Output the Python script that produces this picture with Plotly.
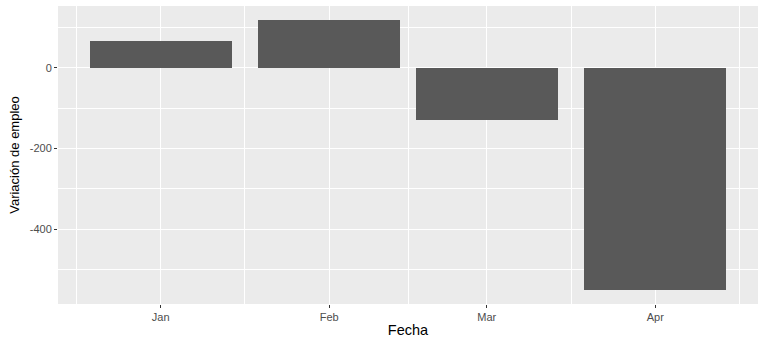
import plotly.graph_objects as go
import pandas as pd

months = ["2020-01-01", "2020-02-01", "2020-03-01", "2020-04-01"]
month_labels = ["Jan", "Feb", "Mar", "Apr"]
values = [67, 119, -129, -551]

DAY = 86400000
dates = pd.to_datetime(months)
res_days = min((dates[i + 1] - dates[i]).days for i in range(len(dates) - 1))
bar_days = 0.9 * res_days
half = pd.Timedelta(days=bar_days / 2)

xmin = dates.min() - half
xmax = dates.max() + half
span = xmax - xmin
xr = [xmin - span * 0.05, xmax + span * 0.05]

ymin = min(min(values), 0)
ymax = max(max(values), 0)
yspan = ymax - ymin
yr = [ymin - 0.05 * yspan, ymax + 0.05 * yspan]

# minor x gridlines at midpoints between major breaks (extended)
step_first = dates[1] - dates[0]
step_last = dates[-1] - dates[-2]
ext = [dates[0] - step_first] + list(dates) + [dates[-1] + step_last]
minor_x = [ext[i] + (ext[i + 1] - ext[i]) / 2 for i in range(len(ext) - 1)]

fig = go.Figure(
    go.Bar(
        x=months,
        y=values,
        width=[bar_days * DAY] * len(values),
        marker=dict(color="#595959", line=dict(width=0)),
        hoverinfo="x+y",
    )
)

font = "Liberation Sans, Arial, sans-serif"
fig.update_layout(
    width=766,
    height=343,
    margin=dict(l=58, r=8, t=6, b=39),
    paper_bgcolor="white",
    plot_bgcolor="#EBEBEB",
    showlegend=False,
    font=dict(family=font, color="#4D4D4D", size=11),
    bargap=0,
)
fig.update_xaxes(
    type="date",
    range=xr,
    tickmode="array",
    tickvals=months,
    ticktext=month_labels,
    showgrid=True,
    gridcolor="white",
    gridwidth=1.1,
    ticks="outside",
    ticklen=3,
    tickcolor="#333333",
    tickwidth=1,
    tickfont=dict(size=11, color="#4D4D4D"),
    title=dict(text="Fecha", font=dict(size=14.5, color="black"), standoff=2),
    minor=dict(tickmode="array", tickvals=[d.strftime("%Y-%m-%d %H:%M") for d in minor_x],
               showgrid=True, gridcolor="white", gridwidth=0.55, ticks=""),
    zeroline=False,
    showline=False,
)
fig.update_yaxes(
    range=yr,
    tickmode="array",
    tickvals=[0, -200, -400],
    ticktext=["0", "-200", "-400"],
    showgrid=True,
    gridcolor="white",
    gridwidth=1.1,
    ticks="outside",
    ticklen=3,
    tickcolor="#333333",
    tickwidth=1,
    tickfont=dict(size=11, color="#4D4D4D"),
    title=dict(text="Variación de empleo", font=dict(size=13, color="black"), standoff=7),
    minor=dict(tickmode="array", tickvals=[100, -100, -300, -500],
               showgrid=True, gridcolor="white", gridwidth=0.55, ticks=""),
    zeroline=False,
    showline=False,
)

fig.write_html("out.html")
